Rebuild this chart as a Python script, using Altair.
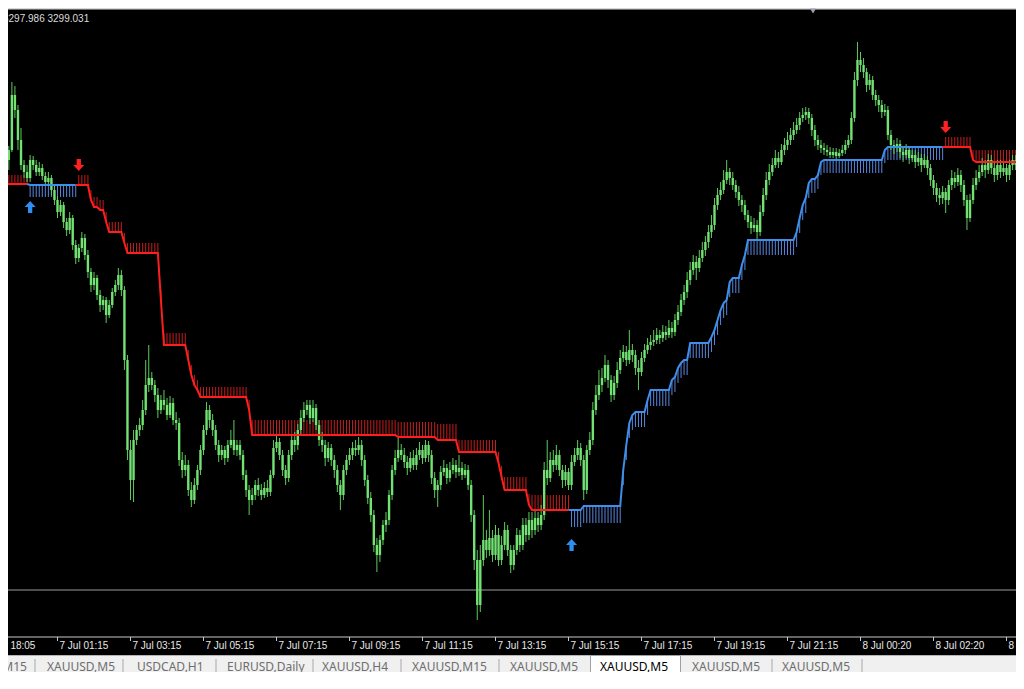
import altair as alt
import pandas as pd

# ---------------- data (XAUUSD M5 candles) ----------------
OPEN = [
    3328.2, 3328.5, 3329.0, 3330.0, 3335.5, 3334.0, 3331.0, 3328.5, 3327.8, 3327.2,
    3329.0, 3328.5, 3327.8, 3328.2, 3327.4, 3326.8, 3327.2, 3326.0, 3325.0, 3323.8,
    3324.5, 3322.8, 3322.0, 3323.2, 3320.5, 3319.2, 3320.2, 3321.2, 3319.5, 3317.8,
    3316.5, 3317.2, 3315.5, 3314.5, 3315.0, 3313.5, 3314.5, 3315.8, 3316.5, 3317.5,
    3316.0, 3309.0, 3300.0, 3297.0, 3301.0, 3302.0, 3302.5, 3304.0, 3306.5, 3307.2,
    3306.5, 3305.5, 3304.0, 3305.0, 3304.5, 3303.5, 3304.7, 3303.0, 3302.7, 3299.0,
    3298.0, 3298.5, 3296.0, 3295.0, 3296.5, 3298.0, 3300.0, 3302.0, 3304.0, 3303.0,
    3302.0, 3300.5, 3299.5, 3300.0, 3299.2, 3300.5, 3301.0, 3300.0, 3300.5, 3299.5,
    3297.5, 3296.0, 3295.0, 3295.5, 3296.5, 3296.0, 3295.5, 3296.2, 3295.8, 3297.5,
    3300.2, 3300.8, 3299.5, 3298.0, 3297.2, 3299.5, 3301.0, 3300.5, 3302.0, 3303.2,
    3304.0, 3304.5, 3303.2, 3304.2, 3302.5, 3301.0, 3300.5, 3299.2, 3300.2, 3299.0,
    3298.0, 3296.5, 3295.5, 3298.0, 3299.0, 3299.5, 3300.2, 3300.0, 3300.5, 3299.0,
    3297.0, 3295.2, 3293.5, 3290.5, 3289.5, 3291.0, 3292.5, 3293.0, 3295.5, 3298.0,
    3299.2, 3300.0, 3299.5, 3298.8, 3298.2, 3299.2, 3298.5, 3299.5, 3300.0, 3299.2,
    3300.5, 3299.5, 3297.2, 3296.0, 3296.5, 3297.8, 3298.2, 3297.2, 3298.0, 3298.5,
    3297.8, 3298.2, 3297.5, 3298.0, 3296.5, 3293.5, 3289.0, 3284.5, 3289.0, 3291.0,
    3290.0, 3291.2, 3289.5, 3291.5, 3289.0, 3290.5, 3292.0, 3290.0, 3288.5, 3290.0,
    3291.5, 3290.5, 3292.5, 3291.5, 3293.0, 3292.0, 3293.2, 3292.5, 3293.5, 3298.0,
    3297.2, 3299.0, 3298.5, 3299.5, 3298.0, 3297.0, 3297.8, 3296.5, 3298.8, 3299.5,
    3300.2, 3299.0, 3296.0, 3300.0, 3301.0, 3304.0, 3305.5, 3306.5, 3307.2, 3308.5,
    3307.0, 3305.5, 3306.7, 3308.0, 3309.2, 3309.8, 3309.0, 3310.0, 3309.5, 3308.2,
    3307.8, 3309.2, 3310.0, 3310.5, 3310.8, 3311.0, 3311.5, 3311.2, 3311.8, 3311.5,
    3312.2, 3311.8, 3313.0, 3313.8, 3315.0, 3315.8, 3317.0, 3318.0, 3318.8, 3318.2,
    3319.2, 3320.0, 3320.8, 3321.8, 3322.5, 3324.5, 3325.5, 3326.0, 3327.0, 3327.8,
    3327.2, 3326.5, 3325.8, 3325.0, 3324.5, 3323.5, 3322.8, 3322.2, 3322.5, 3321.8,
    3323.8, 3325.5, 3327.0, 3327.8, 3328.5, 3329.2, 3328.8, 3330.0, 3330.5, 3331.0,
    3331.5, 3332.0, 3332.5, 3333.2, 3333.5, 3333.8, 3333.2, 3332.0, 3331.0, 3330.5,
    3330.2, 3330.0, 3329.8, 3329.5, 3329.8, 3329.4, 3329.7, 3330.0, 3330.5, 3331.0,
    3333.2, 3337.0, 3339.0, 3338.5, 3337.8, 3336.5, 3337.0, 3335.5, 3335.0, 3334.5,
    3333.8, 3334.0, 3331.5, 3330.5, 3330.2, 3330.6, 3329.8, 3329.5, 3330.0, 3329.2,
    3329.5, 3328.8, 3329.2, 3328.5, 3329.0, 3328.2, 3327.0, 3326.2, 3325.5, 3325.2,
    3325.8, 3325.0, 3326.5, 3327.2, 3326.8, 3327.5, 3326.5, 3325.0, 3323.2, 3325.0,
    3326.5, 3327.2, 3327.8, 3328.5, 3328.0, 3329.0, 3328.2, 3327.5, 3328.5, 3327.8,
    3328.2, 3327.5, 3328.5, 3329.0, 3328.5, 3330.0,
]
CLOSE = [
    3328.5, 3329.0, 3330.0, 3335.5, 3334.0, 3331.0, 3328.5, 3327.8, 3327.2, 3329.0,
    3328.5, 3327.8, 3328.2, 3327.4, 3326.8, 3327.2, 3326.0, 3325.0, 3323.8, 3324.5,
    3322.8, 3322.0, 3323.2, 3320.5, 3319.2, 3320.2, 3321.2, 3319.5, 3317.8, 3316.5,
    3317.2, 3315.5, 3314.5, 3315.0, 3313.5, 3314.5, 3315.8, 3316.5, 3317.5, 3316.0,
    3309.0, 3300.0, 3297.0, 3301.0, 3302.0, 3302.5, 3304.0, 3306.5, 3307.2, 3306.5,
    3305.5, 3304.0, 3305.0, 3304.5, 3303.5, 3304.7, 3303.0, 3302.7, 3299.0, 3298.0,
    3298.5, 3296.0, 3295.0, 3296.5, 3298.0, 3300.0, 3302.0, 3304.0, 3303.0, 3302.0,
    3300.5, 3299.5, 3300.0, 3299.2, 3300.5, 3301.0, 3300.0, 3300.5, 3299.5, 3297.5,
    3296.0, 3295.0, 3295.5, 3296.5, 3296.0, 3295.5, 3296.2, 3295.8, 3297.5, 3300.2,
    3300.8, 3299.5, 3298.0, 3297.2, 3299.5, 3301.0, 3300.5, 3302.0, 3303.2, 3304.0,
    3304.5, 3303.2, 3304.2, 3302.5, 3301.0, 3300.5, 3299.2, 3300.2, 3299.0, 3298.0,
    3296.5, 3295.5, 3298.0, 3299.0, 3299.5, 3300.2, 3300.0, 3300.5, 3299.0, 3297.0,
    3295.2, 3293.5, 3290.5, 3289.5, 3291.0, 3292.5, 3293.0, 3295.5, 3298.0, 3299.2,
    3300.0, 3299.5, 3298.8, 3298.2, 3299.2, 3298.5, 3299.5, 3300.0, 3299.2, 3300.5,
    3299.5, 3297.2, 3296.0, 3296.5, 3297.8, 3298.2, 3297.2, 3298.0, 3298.5, 3297.8,
    3298.2, 3297.5, 3298.0, 3296.5, 3293.5, 3289.0, 3284.5, 3289.0, 3291.0, 3290.0,
    3291.2, 3289.5, 3291.5, 3289.0, 3290.5, 3292.0, 3290.0, 3288.5, 3290.0, 3291.5,
    3290.5, 3292.5, 3291.5, 3293.0, 3292.0, 3293.2, 3292.5, 3293.5, 3298.0, 3297.2,
    3299.0, 3298.5, 3299.5, 3298.0, 3297.0, 3297.8, 3296.5, 3298.8, 3299.5, 3300.2,
    3299.0, 3296.0, 3300.0, 3301.0, 3304.0, 3305.5, 3306.5, 3307.2, 3308.5, 3307.0,
    3305.5, 3306.7, 3308.0, 3309.2, 3309.8, 3309.0, 3310.0, 3309.5, 3308.2, 3307.8,
    3309.2, 3310.0, 3310.5, 3310.8, 3311.0, 3311.5, 3311.2, 3311.8, 3311.5, 3312.2,
    3311.8, 3313.0, 3313.8, 3315.0, 3315.8, 3317.0, 3318.0, 3318.8, 3318.2, 3319.2,
    3320.0, 3320.8, 3321.8, 3322.5, 3324.5, 3325.5, 3326.0, 3327.0, 3327.8, 3327.2,
    3326.5, 3325.8, 3325.0, 3324.5, 3323.5, 3322.8, 3322.2, 3322.5, 3321.8, 3323.8,
    3325.5, 3327.0, 3327.8, 3328.5, 3329.2, 3328.8, 3330.0, 3330.5, 3331.0, 3331.5,
    3332.0, 3332.5, 3333.2, 3333.5, 3333.8, 3333.2, 3332.0, 3331.0, 3330.5, 3330.2,
    3330.0, 3329.8, 3329.5, 3329.8, 3329.4, 3329.7, 3330.0, 3330.5, 3331.0, 3333.2,
    3337.0, 3339.0, 3338.5, 3337.8, 3336.5, 3337.0, 3335.5, 3335.0, 3334.5, 3333.8,
    3334.0, 3331.5, 3330.5, 3330.2, 3330.6, 3329.8, 3329.5, 3330.0, 3329.2, 3329.5,
    3328.8, 3329.2, 3328.5, 3329.0, 3328.2, 3327.0, 3326.2, 3325.5, 3325.2, 3325.8,
    3325.0, 3326.5, 3327.2, 3326.8, 3327.5, 3326.5, 3325.0, 3323.2, 3325.0, 3326.5,
    3327.2, 3327.8, 3328.5, 3328.0, 3329.0, 3328.2, 3327.5, 3328.5, 3327.8, 3328.2,
    3327.5, 3328.5, 3329.0, 3328.5, 3330.0, 3329.2,
]
HIGH = [
    3329.2, 3329.5, 3330.4, 3336.8, 3336.4, 3334.5, 3332.2, 3329.0, 3328.5, 3329.5,
    3329.4, 3329.0, 3328.8, 3328.6, 3327.8, 3327.8, 3327.5, 3326.4, 3325.4, 3325.0,
    3324.8, 3323.2, 3323.8, 3323.5, 3321.0, 3320.6, 3321.8, 3321.6, 3320.0, 3318.2,
    3317.8, 3317.5, 3316.0, 3315.4, 3315.3, 3315.0, 3316.2, 3317.0, 3318.2, 3318.0,
    3316.4, 3309.5, 3301.0, 3302.0, 3302.5, 3303.2, 3305.0, 3309.0, 3310.5, 3307.8,
    3307.0, 3306.2, 3305.5, 3306.0, 3305.2, 3305.4, 3305.2, 3303.8, 3303.2, 3299.8,
    3299.5, 3299.0, 3296.8, 3297.2, 3298.5, 3300.5, 3302.5, 3304.8, 3304.5, 3303.6,
    3302.5, 3301.0, 3300.5, 3300.4, 3301.0, 3302.0, 3303.0, 3301.0, 3301.0, 3300.0,
    3298.0, 3296.5, 3296.2, 3297.0, 3297.2, 3296.6, 3296.8, 3297.0, 3298.0, 3301.0,
    3301.5, 3301.2, 3300.0, 3298.5, 3300.0, 3301.6, 3301.8, 3302.6, 3304.0, 3304.8,
    3305.0, 3305.0, 3305.0, 3304.6, 3303.0, 3301.8, 3301.0, 3300.8, 3300.6, 3299.5,
    3298.5, 3297.0, 3298.5, 3299.5, 3300.2, 3300.8, 3301.0, 3301.3, 3301.0, 3299.5,
    3297.5, 3295.8, 3294.0, 3291.2, 3291.5, 3293.0, 3293.8, 3296.0, 3298.5, 3300.0,
    3301.2, 3300.6, 3300.2, 3299.4, 3299.8, 3300.0, 3300.2, 3300.8, 3300.5, 3301.0,
    3300.9, 3300.0, 3297.8, 3297.0, 3298.4, 3299.0, 3298.6, 3298.8, 3299.2, 3299.0,
    3299.5, 3298.8, 3298.6, 3298.5, 3297.0, 3294.0, 3290.0, 3290.5, 3295.5, 3292.0,
    3294.0, 3292.0, 3292.5, 3292.2, 3291.4, 3292.8, 3292.5, 3290.5, 3290.5, 3292.2,
    3292.0, 3293.2, 3293.2, 3293.8, 3293.8, 3294.0, 3293.8, 3294.5, 3298.8, 3301.0,
    3299.8, 3300.0, 3300.5, 3300.0, 3298.5, 3298.5, 3298.2, 3299.5, 3300.2, 3301.0,
    3300.7, 3299.5, 3300.5, 3301.8, 3304.8, 3306.5, 3308.0, 3308.2, 3309.5, 3309.0,
    3307.5, 3307.4, 3308.8, 3310.0, 3310.5, 3310.4, 3312.0, 3310.6, 3310.0, 3309.0,
    3309.8, 3310.6, 3311.2, 3311.5, 3312.0, 3312.2, 3312.0, 3312.5, 3312.4, 3313.0,
    3312.8, 3313.6, 3314.5, 3315.6, 3316.5, 3317.8, 3318.8, 3319.5, 3319.4, 3320.0,
    3320.8, 3321.4, 3322.5, 3323.5, 3325.2, 3326.2, 3326.8, 3328.0, 3329.0, 3328.2,
    3327.8, 3327.0, 3326.4, 3325.5, 3325.0, 3324.0, 3323.4, 3323.2, 3323.0, 3324.5,
    3326.2, 3327.8, 3328.6, 3329.2, 3330.0, 3329.8, 3330.6, 3331.2, 3331.8, 3332.2,
    3332.8, 3333.2, 3333.8, 3334.2, 3334.3, 3334.2, 3333.6, 3332.5, 3331.5, 3331.0,
    3330.7, 3330.5, 3330.3, 3330.2, 3330.2, 3330.1, 3330.5, 3331.0, 3331.5, 3333.8,
    3337.8, 3340.8, 3339.8, 3339.2, 3338.2, 3337.6, 3337.4, 3336.0, 3335.5, 3335.0,
    3334.6, 3334.4, 3332.0, 3331.0, 3331.2, 3331.0, 3330.4, 3330.6, 3330.4, 3330.0,
    3330.0, 3329.8, 3329.6, 3329.6, 3329.4, 3328.6, 3327.5, 3326.7, 3326.2, 3326.4,
    3326.2, 3327.0, 3328.0, 3327.8, 3328.2, 3328.0, 3327.0, 3325.5, 3325.6, 3327.2,
    3328.0, 3328.5, 3329.2, 3329.0, 3329.6, 3329.5, 3328.8, 3329.0, 3329.0, 3328.8,
    3328.6, 3329.0, 3329.5, 3329.5, 3331.0, 3330.5,
]
LOW = [
    3327.8, 3328.2, 3328.0, 3329.8, 3333.2, 3330.0, 3328.0, 3327.2, 3326.8, 3326.8,
    3328.0, 3327.4, 3327.4, 3327.0, 3326.4, 3326.4, 3325.5, 3324.5, 3323.2, 3323.4,
    3322.2, 3321.4, 3321.6, 3320.0, 3318.6, 3318.8, 3319.8, 3319.0, 3317.2, 3315.8,
    3316.0, 3315.0, 3313.8, 3314.0, 3312.7, 3313.2, 3314.2, 3315.4, 3316.0, 3315.4,
    3308.0, 3299.0, 3295.0, 3294.8, 3300.5, 3301.4, 3302.0, 3303.5, 3305.8, 3306.0,
    3304.8, 3303.2, 3303.6, 3304.0, 3303.0, 3303.2, 3302.5, 3302.0, 3298.4, 3297.2,
    3297.4, 3295.4, 3294.3, 3294.6, 3296.0, 3297.5, 3299.5, 3301.5, 3302.2, 3301.4,
    3300.0, 3298.8, 3299.0, 3298.5, 3298.8, 3300.2, 3299.5, 3299.4, 3299.0, 3297.0,
    3295.3, 3293.5, 3294.5, 3295.0, 3295.4, 3295.0, 3295.2, 3295.3, 3295.4, 3297.2,
    3299.8, 3299.0, 3297.4, 3296.5, 3296.8, 3299.0, 3299.8, 3300.0, 3301.5, 3302.8,
    3303.5, 3302.6, 3302.8, 3302.0, 3300.4, 3299.8, 3298.4, 3298.8, 3298.4, 3297.2,
    3295.8, 3294.0, 3295.0, 3297.5, 3298.5, 3299.0, 3299.4, 3299.5, 3298.4, 3296.4,
    3294.6, 3292.8, 3289.8, 3287.8, 3288.8, 3290.5, 3291.8, 3292.5, 3295.0, 3297.5,
    3298.8, 3299.0, 3298.2, 3297.5, 3297.8, 3298.0, 3298.0, 3299.0, 3298.6, 3298.8,
    3298.8, 3296.6, 3295.2, 3294.3, 3296.0, 3297.4, 3296.6, 3296.8, 3297.6, 3297.2,
    3297.4, 3297.0, 3297.2, 3296.0, 3292.8, 3288.0, 3283.0, 3283.8, 3288.4, 3289.2,
    3289.4, 3288.8, 3289.0, 3288.4, 3288.5, 3290.0, 3289.4, 3287.7, 3288.0, 3289.5,
    3289.8, 3290.0, 3290.8, 3291.0, 3291.2, 3291.5, 3291.8, 3292.0, 3293.0, 3296.5,
    3296.8, 3297.8, 3298.0, 3297.4, 3296.2, 3296.4, 3296.0, 3296.0, 3298.4, 3299.0,
    3298.4, 3295.0, 3295.6, 3299.5, 3300.5, 3303.5, 3305.0, 3305.8, 3306.8, 3306.2,
    3304.8, 3305.0, 3306.2, 3307.6, 3308.8, 3308.4, 3308.6, 3308.8, 3307.5, 3306.0,
    3307.4, 3308.8, 3309.6, 3310.0, 3310.4, 3310.6, 3310.6, 3310.8, 3311.0, 3311.2,
    3311.2, 3311.4, 3312.5, 3313.4, 3314.5, 3315.2, 3316.5, 3317.5, 3317.0, 3317.8,
    3318.8, 3319.4, 3320.2, 3321.2, 3322.0, 3324.0, 3325.0, 3325.6, 3326.6, 3326.5,
    3326.0, 3325.2, 3324.4, 3323.8, 3323.0, 3322.2, 3321.6, 3321.8, 3321.0, 3321.4,
    3323.4, 3325.0, 3326.5, 3327.4, 3328.2, 3328.2, 3328.5, 3329.5, 3330.0, 3330.5,
    3331.0, 3331.6, 3332.0, 3332.8, 3333.0, 3332.6, 3331.4, 3330.4, 3330.0, 3329.7,
    3329.5, 3329.4, 3329.2, 3329.2, 3329.0, 3329.2, 3329.4, 3329.6, 3330.2, 3330.6,
    3332.8, 3336.4, 3337.8, 3337.2, 3335.8, 3336.0, 3335.0, 3334.4, 3333.8, 3333.2,
    3333.4, 3331.0, 3330.0, 3329.6, 3329.8, 3329.2, 3328.8, 3329.2, 3328.6, 3328.8,
    3328.2, 3328.4, 3327.8, 3328.2, 3327.5, 3326.4, 3325.5, 3324.8, 3324.5, 3324.6,
    3323.7, 3324.5, 3326.0, 3326.2, 3326.4, 3325.8, 3324.4, 3322.0, 3322.8, 3324.6,
    3326.0, 3326.8, 3327.4, 3327.2, 3327.6, 3327.6, 3326.8, 3327.0, 3327.2, 3327.4,
    3326.8, 3327.0, 3328.0, 3328.0, 3328.2, 3328.8,
]

# SuperTrend runs: first bar of each run, trend (-1 down/red, 1 up/blue), line level, hatch end
ST_FROM = [0, 9, 25, 29, 30, 32, 34, 35, 40, 41, 52, 53, 61, 62, 63, 64, 65, 81, 82, 130,
           143, 150, 163, 164, 165, 173, 174, 187, 191, 204, 205, 206, 207, 208, 212, 213,
           220, 221, 222, 223, 224, 226, 233, 234, 235, 236, 237, 238, 239, 240, 243, 244,
           245, 261, 262, 263, 264, 265, 266, 268, 269, 270, 290, 291, 310, 319, 320]
ST_DIR = [-1, 1] + [-1] * 25 + [1] * 37 + [-1] * 3
ST_LINE = [3326.6, 3326.5, 3326.5, 3325.0, 3324.3, 3324.0, 3322.8, 3321.8, 3320.7, 3319.7,
           3315.0, 3310.5, 3309.0, 3307.5, 3306.5, 3306.0, 3305.3, 3304.0, 3301.5, 3301.3,
           3301.0, 3299.8, 3298.7, 3297.3, 3296.0, 3294.5, 3294.0, 3294.0, 3294.4, 3298.0,
           3300.5, 3302.7, 3303.5, 3303.8, 3305.0, 3306.0, 3307.0, 3307.3, 3308.2, 3308.7,
           3309.0, 3310.7, 3311.3, 3312.0, 3313.0, 3314.0, 3314.7, 3315.0, 3316.8, 3317.2,
           3318.5, 3319.5, 3321.0, 3321.8, 3323.2, 3324.5, 3325.2, 3326.7, 3327.1, 3327.5,
           3328.8, 3329.0, 3330.0, 3330.3, 3330.3, 3329.0, 3328.8]
ST_BAND = [3327.5, 3325.3, 3327.5, 3326.0, 3325.3, 3325.0, 3323.8, 3322.8, 3321.7, 3320.7,
           3316.0, 3311.7, 3310.0, 3308.5, 3307.5, 3307.0, 3306.3, 3305.0, 3303.0, 3302.8,
           3302.6, 3301.0, 3299.8, 3298.4, 3297.3, 3295.6, 3295.5, 3292.3, 3292.7, 3296.5,
           3299.0, 3301.2, 3302.0, 3302.3, 3303.5, 3304.4, 3305.5, 3305.8, 3306.7, 3307.2,
           3307.5, 3309.2, 3309.8, 3310.5, 3311.5, 3312.5, 3313.2, 3313.5, 3315.3, 3315.7,
           3317.0, 3318.0, 3319.5, 3320.3, 3321.7, 3323.0, 3323.7, 3325.2, 3325.7, 3326.1,
           3327.5, 3327.7, 3328.7, 3329.0, 3331.3, 3330.0, 3330.0]

ARROW_BAR = [9, 25, 187, 310]
ARROW_PRICE = [3324.3, 3328.5, 3290.5, 3332.3]
ARROW_DIR = [1, -1, 1, -1]

LEVEL_PRICE = [3286.0]

TICK_BAR = [-6, 18, 42, 66, 90, 114, 138, 162, 186, 210, 234, 258, 282, 306, 330]
TICK_LABEL = ["4 Jul 18:05", "7 Jul 01:15", "7 Jul 03:15", "7 Jul 05:15", "7 Jul 07:15",
              "7 Jul 09:15", "7 Jul 11:15", "7 Jul 13:15", "7 Jul 15:15", "7 Jul 17:15",
              "7 Jul 19:15", "7 Jul 21:15", "8 Jul 00:20", "8 Jul 02:20", "8 Jul 04:20"]

TOP_TEXT = "3297.986 3299.031"
TAB_LABELS = ["XAUUSD,M15", "XAUUSD,M5", "USDCAD,H1", "EURUSD,Daily", "XAUUSD,H4",
              "XAUUSD,M15", "XAUUSD,M5", "XAUUSD,M5", "XAUUSD,M5", "XAUUSD,M5"]
ACTIVE_TAB = 7

# ---------------- layout (pixels) ----------------
W, H = 1008, 664
TAB_X = [-56, 39, 129, 219, 314, 404, 502, 592, 684, 774]
TAB_SEP_X = [27, 115, 208, 305, 393, 491, 764, 854]

# ---------------- tables ----------------
n = len(OPEN)
candles = pd.DataFrame({"bar": list(range(n)), "open": OPEN, "high": HIGH,
                        "low": LOW, "close": CLOSE})

rows = []
for k, start in enumerate(ST_FROM):
    end = ST_FROM[k + 1] - 1 if k + 1 < len(ST_FROM) else n - 1
    for b in range(start, end + 1):
        rows.append({"bar": b, "dir": ST_DIR[k], "line": ST_LINE[k], "band": ST_BAND[k]})
st = pd.DataFrame(rows)
st["trend"] = st["dir"].map({-1: "down", 1: "up"})
st["leg"] = (st["dir"] != st["dir"].shift()).cumsum()

parts = [st]
for leg in st["leg"].unique()[1:]:
    first = st.index[st["leg"] == leg][0]
    prev = st.loc[first - 1].copy()
    prev["leg"] = leg
    prev["trend"] = st.loc[first, "trend"]
    parts.append(pd.DataFrame([prev]))
st_line = pd.concat(parts, ignore_index=True).sort_values(["leg", "bar"])

arrows = pd.DataFrame({"bar": ARROW_BAR, "price": ARROW_PRICE,
                       "trend": ["up" if d == 1 else "down" for d in ARROW_DIR]})
ticks = pd.DataFrame({"bar": TICK_BAR, "label": TICK_LABEL})
tabs = pd.DataFrame({"px": TAB_X, "label": TAB_LABELS})
tabs_inactive = tabs.drop(index=ACTIVE_TAB)
tabs_active = tabs.loc[[ACTIVE_TAB]]
seps = pd.DataFrame({"px": TAB_SEP_X})
one = pd.DataFrame({"k": [0]})

XS = alt.Scale(domain=[1.726, 333.12], nice=False, zero=False)
YS = alt.Scale(domain=[3277.8, 3344.2], nice=False, zero=False)
X = alt.X("bar:Q", scale=XS, axis=None)

GREEN_WICK = "#5ccc5c"
GREEN_BODY = "#72e272"
UP_PATH = "M0,-1L0.9,0L0.35,0L0.35,1L-0.35,1L-0.35,0L-0.9,0Z"
DOWN_PATH = "M0,1L0.9,0L0.35,0L0.35,-1L-0.35,-1L-0.35,0L-0.9,0Z"

level = alt.Chart(pd.DataFrame({"price": LEVEL_PRICE})).mark_rule(
    color="#9c9c9c", strokeWidth=1).encode(
    y=alt.Y("price:Q", scale=YS, axis=None), x=alt.value(0), x2=alt.value(W))

hatch = alt.Chart(st).mark_rule(strokeWidth=1, clip=True).encode(
    x=X, y=alt.Y("line:Q", scale=YS, axis=None), y2="band:Q",
    color=alt.Color("trend:N", scale=alt.Scale(domain=["down", "up"],
                    range=["#c81c1c", "#5a86dc"]), legend=None))

wick = alt.Chart(candles).mark_rule(strokeWidth=1, color=GREEN_WICK, clip=True).encode(
    x=X, y=alt.Y("low:Q", scale=YS, axis=None), y2="high:Q")

body = alt.Chart(candles).mark_rule(strokeWidth=2.4, color=GREEN_BODY, clip=True).encode(
    x=X, y=alt.Y("open:Q", scale=YS, axis=None), y2="close:Q")

stline = alt.Chart(st_line).mark_line(strokeWidth=2, clip=True).encode(
    x=X, y=alt.Y("line:Q", scale=YS, axis=None),
    color=alt.Color("trend:N", scale=alt.Scale(domain=["down", "up"],
                    range=["#ff1e1e", "#3d8fea"]), legend=None),
    detail="leg:N", order="bar:Q")

arrow = alt.Chart(arrows).mark_point(filled=True, size=150, opacity=1, strokeWidth=0,
                                     clip=True).encode(
    x=X, y=alt.Y("price:Q", scale=YS, axis=None),
    color=alt.Color("trend:N", scale=alt.Scale(domain=["down", "up"],
                    range=["#ff2020", "#2f8ff0"]), legend=None),
    shape=alt.Shape("trend:N", scale=alt.Scale(domain=["down", "up"],
                    range=[DOWN_PATH, UP_PATH]), legend=None))

axis_line = alt.Chart(one).mark_rule(color="#c8c8c8", strokeWidth=1).encode(
    x=alt.value(0), x2=alt.value(W), y=alt.value(629))
tick_marks = alt.Chart(ticks).mark_rule(color="#c8c8c8", strokeWidth=1).encode(
    x=X, y=alt.value(629), y2=alt.value(633))
tick_text = alt.Chart(ticks).mark_text(align="left", baseline="middle", dx=2,
                                       fontSize=10, font="Liberation Sans",
                                       color="#e8e8e8").encode(
    x=X, y=alt.value(638), text="label:N")

top_strip = alt.Chart(one).mark_rect(color="#d8d8d8").encode(
    x=alt.value(0), x2=alt.value(W), y=alt.value(0), y2=alt.value(1.5))
top_marker = alt.Chart(one).mark_point(shape="triangle-down", filled=True, size=35,
                                       opacity=1, color="#9aa2b4").encode(
    x=alt.value(805), y=alt.value(3))
top_text = alt.Chart(one).mark_text(align="left", baseline="middle", fontSize=10,
                                    font="Liberation Sans", color="#dcdcdc",
                                    text=TOP_TEXT).encode(
    x=alt.value(-5), y=alt.value(10.5))

tab_bg = alt.Chart(one).mark_rect(color="#f0f0f0").encode(
    x=alt.value(0), x2=alt.value(W), y=alt.value(647), y2=alt.value(H))
tab_line = alt.Chart(one).mark_rule(color="#b4b4b4").encode(
    x=alt.value(0), x2=alt.value(W), y=alt.value(647.5))
tab_active_box = alt.Chart(one).mark_rect(fill="#ffffff", stroke="#a0a0a0",
                                          strokeWidth=1).encode(
    x=alt.value(582.5), x2=alt.value(672.5), y=alt.value(647.5), y2=alt.value(672))
tab_seps = alt.Chart(seps).mark_rule(color="#a8a8a8").encode(
    x=alt.X("px:Q", scale=None), y=alt.value(651), y2=alt.value(665))
tab_text = alt.Chart(tabs_inactive).mark_text(align="left", baseline="middle",
                                              fontSize=12, font="Noto Sans",
                                              color="#6e6e6e").encode(
    x=alt.X("px:Q", scale=None), y=alt.value(659), text="label:N")
tab_text_active = alt.Chart(tabs_active).mark_text(align="left", baseline="middle",
                                                   fontSize=12, font="Noto Sans",
                                                   color="#000000").encode(
    x=alt.X("px:Q", scale=None), y=alt.value(659), text="label:N")

chart = alt.layer(
    level, hatch, wick, body, stline, arrow,
    axis_line, tick_marks, tick_text,
    top_strip, top_marker, top_text,
    tab_bg, tab_line, tab_active_box, tab_seps, tab_text, tab_text_active,
).resolve_scale(
    x="independent", y="independent", color="independent", shape="independent"
).properties(
    width=W, height=H, padding=0, background="#000000",
    autosize=alt.AutoSizeParams(type="none"),
).configure_view(strokeWidth=0)

chart.save("out.html", embed_options={"renderer": "svg", "actions": False})
